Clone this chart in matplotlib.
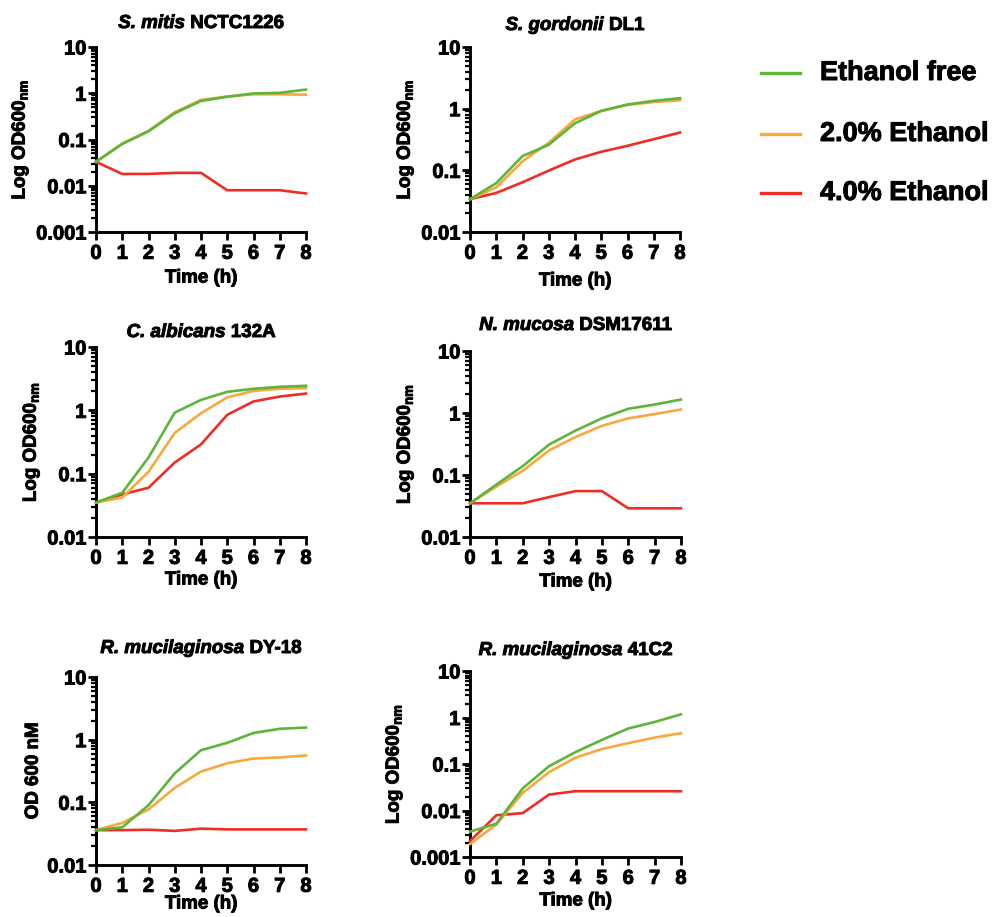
import matplotlib
matplotlib.use("Agg")
import matplotlib.pyplot as plt
from matplotlib.lines import Line2D
from matplotlib.ticker import LogLocator, FixedLocator, FixedFormatter, NullFormatter
import matplotlib.patheffects as pe
import numpy as np

plt.rcParams['font.family'] = ['Liberation Sans', 'DejaVu Sans']
plt.rcParams['font.weight'] = 'bold'
plt.rcParams['mathtext.fontset'] = 'custom'
plt.rcParams['mathtext.rm'] = 'Liberation Sans:bold'
plt.rcParams['mathtext.bf'] = 'Liberation Sans:bold'
plt.rcParams['mathtext.it'] = 'Liberation Sans:bold:italic'

time_h = [0, 1, 2, 3, 4, 5, 6, 7, 8]
series_names = ["Ethanol free", "2.0% Ethanol", "4.0% Ethanol"]
series_colors = ["#5DB53A", "#F9A83E", "#EE2D24"]

titles_italic = ["S. mitis", "S. gordonii", "C. albicans", "N. mucosa",
                 "R. mucilaginosa", "R. mucilaginosa"]
titles_plain = ["NCTC1226", "DL1", "132A", "DSM17611", "DY-18", "41C2"]
ylabels = [r"Log OD600$_{\mathrm{nm}}$", r"Log OD600$_{\mathrm{nm}}$",
           r"Log OD600$_{\mathrm{nm}}$", r"Log OD600$_{\mathrm{nm}}$",
           "OD 600 nM", r"Log OD600$_{\mathrm{nm}}$"]
ymins = [0.001, 0.01, 0.01, 0.01, 0.01, 0.001]

# S. mitis NCTC1226
mitis_free = [0.033, 0.08, 0.15, 0.37, 0.68, 0.84, 0.99, 1.02, 1.2]
mitis_2 = [0.033, 0.082, 0.155, 0.39, 0.72, 0.85, 0.95, 0.95, 0.93]
mitis_4 = [0.033, 0.018, 0.018, 0.019, 0.019, 0.008, 0.008, 0.008, 0.0068]
# S. gordonii DL1
gord_free = [0.034, 0.062, 0.17, 0.26, 0.58, 0.92, 1.17, 1.34, 1.48]
gord_2 = [0.034, 0.053, 0.14, 0.28, 0.67, 0.92, 1.15, 1.28, 1.37]
gord_4 = [0.034, 0.043, 0.064, 0.099, 0.15, 0.20, 0.25, 0.32, 0.41]
# C. albicans 132A
alb_free = [0.035, 0.05, 0.18, 0.92, 1.46, 1.96, 2.19, 2.35, 2.44]
alb_2 = [0.035, 0.042, 0.107, 0.44, 0.9, 1.6, 2.03, 2.19, 2.24]
alb_4 = [0.035, 0.047, 0.06, 0.15, 0.29, 0.85, 1.38, 1.65, 1.84]
# N. mucosa DSM17611
muc_free = [0.035, 0.07, 0.139, 0.31, 0.52, 0.82, 1.17, 1.37, 1.65]
muc_2 = [0.035, 0.065, 0.117, 0.25, 0.41, 0.62, 0.82, 0.96, 1.14]
muc_4 = [0.035, 0.035, 0.035, 0.044, 0.055, 0.055, 0.029, 0.029, 0.029]
# R. mucilaginosa DY-18
dy_free = [0.036, 0.04, 0.09, 0.29, 0.68, 0.89, 1.28, 1.49, 1.56]
dy_2 = [0.036, 0.047, 0.077, 0.17, 0.31, 0.42, 0.5, 0.52, 0.56]
dy_4 = [0.036, 0.036, 0.0365, 0.035, 0.038, 0.037, 0.037, 0.037, 0.037]
# R. mucilaginosa 41C2
c2_free = [0.0035, 0.0052, 0.030, 0.09, 0.18, 0.33, 0.58, 0.8, 1.17]
c2_2 = [0.0019, 0.005, 0.024, 0.067, 0.137, 0.21, 0.28, 0.37, 0.46]
c2_4 = [0.0022, 0.0079, 0.0088, 0.022, 0.026, 0.026, 0.026, 0.026, 0.026]

panels = [
    (mitis_free, mitis_2, mitis_4),
    (gord_free, gord_2, gord_4),
    (alb_free, alb_2, alb_4),
    (muc_free, muc_2, muc_4),
    (dy_free, dy_2, dy_4),
    (c2_free, c2_2, c2_4),
]

W, H = 992, 917
fig = plt.figure(figsize=(W / 100, H / 100), dpi=100)
heavy = [pe.withStroke(linewidth=0.7, foreground='black')]

# axes boxes in pixels: left, right, top, bottom
boxes = [(96, 306, 47, 232), (470, 680, 47, 232),
         (96, 306, 347, 537), (470, 681, 351, 537),
         (96, 306, 677, 865), (470, 681, 671, 857)]
title_base = [28, 30, 337, 330, 653, 655]
xlabel_center = [278, 281, 580, 582, 904, 901]

renderer = fig.canvas.get_renderer()

for i, (data, box) in enumerate(zip(panels, boxes)):
    l, r, t, b = box
    ax = fig.add_axes([l / W, 1 - b / H, (r - l) / W, (b - t) / H])
    order = [2, 1, 0]
    for k in order:
        ax.plot(time_h, data[k], color=series_colors[k], lw=1.9,
                clip_on=False, zorder=3 + (2 - k))
    ax.set_yscale('log')
    ax.set_xlim(0, 8)
    ax.set_ylim(ymins[i], 10)
    ax.set_xticks(time_h)
    ax.set_xticklabels([str(v) for v in time_h])
    majors = [10.0 ** e for e in range(int(round(np.log10(ymins[i]))), 2)]
    ax.yaxis.set_major_locator(FixedLocator(majors))
    labs = []
    for v in majors:
        if v >= 1:
            labs.append(str(int(v)))
        else:
            labs.append(("%.3f" % v).rstrip('0'))
    ax.yaxis.set_major_formatter(FixedFormatter(labs))
    ax.yaxis.set_minor_locator(LogLocator(base=10, subs=np.arange(2, 10), numticks=20))
    ax.yaxis.set_minor_formatter(NullFormatter())
    for side in ['top', 'right']:
        ax.spines[side].set_visible(False)
    for side in ['left', 'bottom']:
        ax.spines[side].set_linewidth(2.1)
    ax.tick_params(axis='both', which='major', direction='out', length=5.5,
                   width=2.0, labelsize=14.5, pad=1.5)
    ax.tick_params(axis='y', which='minor', direction='out', length=3.8, width=1.6)
    ax.tick_params(axis='x', which='major', pad=3)
    for lab in ax.get_xticklabels() + ax.get_yticklabels():
        lab.set_fontweight('bold')
        lab.set_path_effects(heavy)
    yl = ax.set_ylabel(ylabels[i], fontsize=13.5, fontweight='bold', labelpad=4)
    yl.set_path_effects(heavy)
    ax.set_facecolor('none')

    xt = fig.text((l + r) / 2 / W, 1 - xlabel_center[i] / H, "Time (h)",
                  ha='center', va='center', fontsize=13.5, fontweight='bold')
    xt.set_path_effects(heavy)

    fs = 13.5
    t1 = fig.text(0, 0, titles_italic[i] + " ", fontsize=fs, fontweight='bold',
                  fontstyle='italic')
    t2 = fig.text(0, 0, titles_plain[i], fontsize=fs, fontweight='bold')
    w1 = t1.get_window_extent(renderer).width
    w2 = t2.get_window_extent(renderer).width
    cx = (l + r) / 2
    x0 = cx - (w1 + w2) / 2
    yb = 1 - title_base[i] / H
    for tt, xx in ((t1, x0), (t2, x0 + w1)):
        tt.set_position((xx / W, yb))
        tt.set_va('baseline')
        tt.set_path_effects(heavy)

# legend
leg_y = [73, 134, 193]
for k in range(3):
    y = 1 - leg_y[k] / H
    fig.add_artist(Line2D([761 / W, 800 / W], [y, y], color=series_colors[k],
                          lw=2.4, transform=fig.transFigure))
    lt = fig.text(820 / W, y, series_names[k], ha='left', va='center',
                  fontsize=19.5, fontweight='bold')
    lt.set_path_effects(heavy)

fig.savefig("out.png", dpi=100)
